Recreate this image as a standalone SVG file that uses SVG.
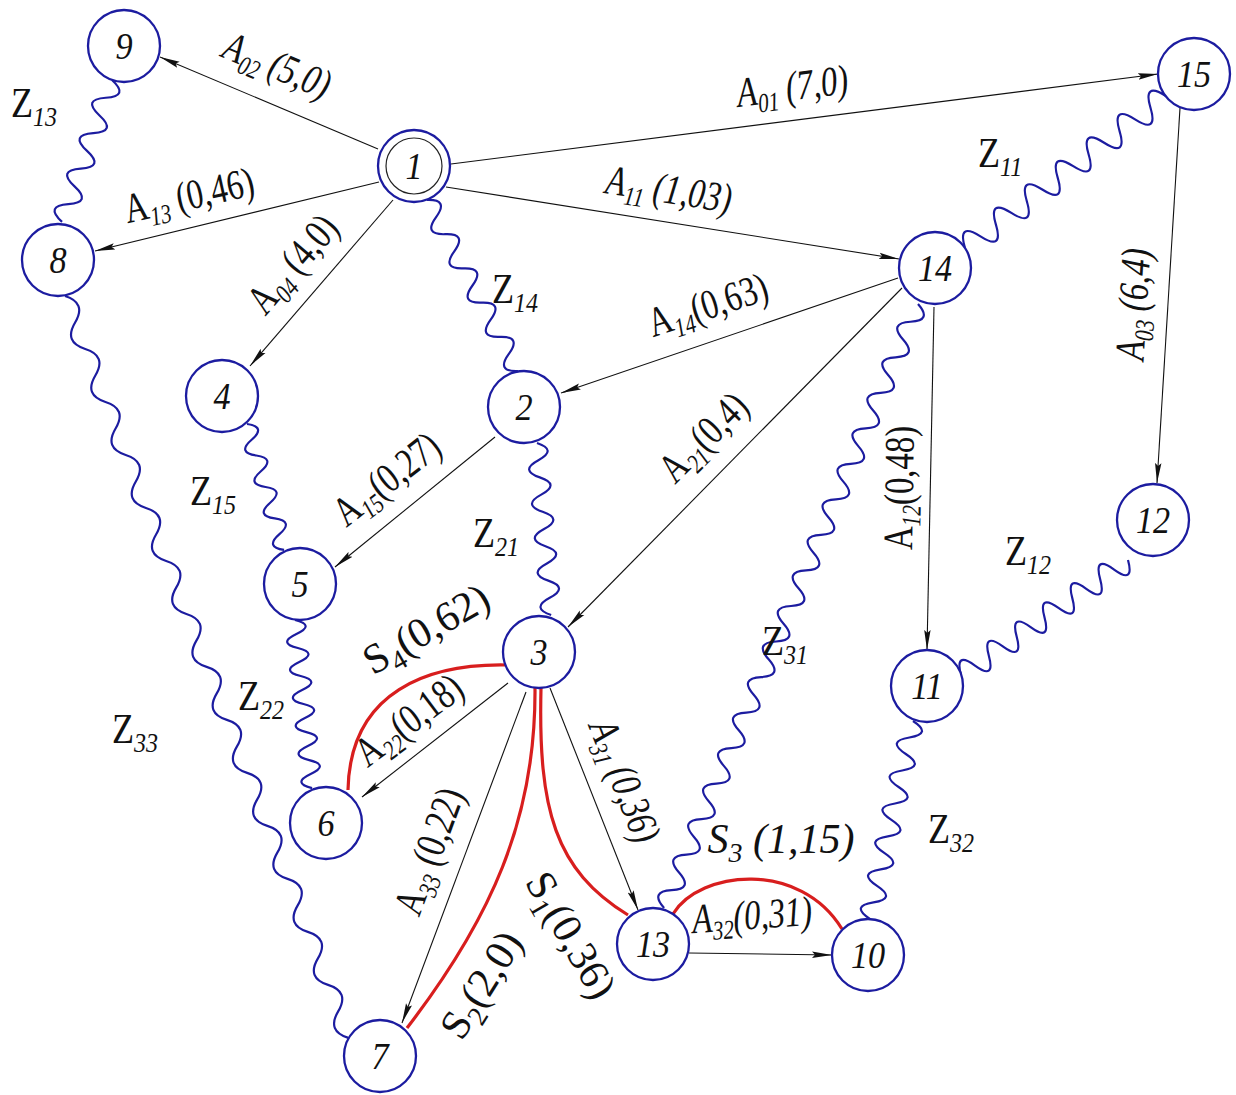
<svg xmlns="http://www.w3.org/2000/svg" width="1236" height="1095" viewBox="0 0 1236 1095">
<style>
.n{fill:#fff;stroke:#1c1ca0;stroke-width:2.3}
.in{fill:none;stroke:#222;stroke-width:1.2}
.nt{font-family:"Liberation Serif",serif;font-style:italic;font-size:38px;fill:#111;text-anchor:middle}
.a{stroke:#111;stroke-width:1.1;fill:none}
.w{stroke:#1c1ca0;stroke-width:2.2;fill:none}
.s{stroke:#d81e1e;stroke-width:3.2;fill:none}
.l{font-family:"Liberation Serif",serif;font-size:42px;fill:#111;text-anchor:middle}
.it{font-style:italic}
.sub{font-size:27px}
.z{font-family:"Liberation Serif",serif;font-size:42px;fill:#111}
.zs{font-size:28px;font-style:italic}
.sl{font-family:"Liberation Serif",serif;font-size:42px;fill:#111;text-anchor:middle}
.ss{font-size:28px}
</style>
<defs>
<marker id="arr" markerUnits="userSpaceOnUse" markerWidth="20" markerHeight="8" viewBox="0 0 20 8" refX="20" refY="4" orient="auto">
<path d="M0,0.8L20,4L0,7.2L3,4z" fill="#111"/>
</marker>
</defs>
<rect width="1236" height="1095" fill="#fff"/>
<g id="connectors">
<g id="arcs">
<line class="a" x1="451" y1="164" x2="1158" y2="74" marker-end="url(#arr)"/>
<line class="a" x1="378" y1="149" x2="160" y2="57" marker-end="url(#arr)"/>
<line class="a" x1="379" y1="182" x2="95" y2="251" marker-end="url(#arr)"/>
<line class="a" x1="446" y1="187" x2="899" y2="259" marker-end="url(#arr)"/>
<line class="a" x1="393" y1="200" x2="250" y2="366" marker-end="url(#arr)"/>
<line class="a" x1="898" y1="278" x2="561" y2="393" marker-end="url(#arr)"/>
<line class="a" x1="495" y1="437" x2="335" y2="567" marker-end="url(#arr)"/>
<line class="a" x1="902" y1="288" x2="568" y2="627" marker-end="url(#arr)"/>
<line class="a" x1="934" y1="307" x2="927" y2="650" marker-end="url(#arr)"/>
<line class="a" x1="1180" y1="108" x2="1157" y2="483" marker-end="url(#arr)"/>
<line class="a" x1="508" y1="683" x2="362" y2="797" marker-end="url(#arr)"/>
<line class="a" x1="526" y1="692" x2="402" y2="1023" marker-end="url(#arr)"/>
<line class="a" x1="550" y1="688" x2="638" y2="910" marker-end="url(#arr)"/>
<line class="a" x1="689" y1="953" x2="832" y2="955" marker-end="url(#arr)"/>
</g>
<g id="waves">
<path class="w" transform="translate(112,80) rotate(109.4)" d="M0,0q9.4,-22 18.8,0t18.8,0 18.8,0 18.8,0 18.8,0 18.8,0 18.8,0 18.8,0"/>
<path class="w" transform="translate(427,200) rotate(62)" d="M0,0q9.69,-20 19.37,0t19.37,0 19.37,0 19.37,0 19.37,0 19.37,0 19.37,0 19.37,0 19.37,0 19.37,0"/>
<path class="w" transform="translate(965,248) rotate(-37.1)" d="M0,0q9.69,-26 19.38,0t19.38,0 19.38,0 19.38,0 19.38,0 19.38,0 19.38,0 19.38,0 19.38,0 19.38,0 19.38,0 19.38,0 19.38,0"/>
<path class="w" transform="translate(247,424) rotate(73.6)" d="M0,0q8.2,-18 16.41,0t16.41,0 16.41,0 16.41,0 16.41,0 16.41,0 16.41,0 16.41,0"/>
<path class="w" transform="translate(537,443) rotate(85.3)" d="M0,0q8.63,-20 17.26,0t17.26,0 17.26,0 17.26,0 17.26,0 17.26,0 17.26,0 17.26,0 17.26,0 17.26,0"/>
<path class="w" transform="translate(295,620) rotate(84.2)" d="M0,0q7.04,-20 14.08,0t14.08,0 14.08,0 14.08,0 14.08,0 14.08,0 14.08,0 14.08,0 14.08,0 14.08,0 14.08,0 14.08,0"/>
<path class="w" transform="translate(65,296) rotate(69.1)" d="M0,0q14.18,-18 28.36,0t28.36,0 28.36,0 28.36,0 28.36,0 28.36,0 28.36,0 28.36,0 28.36,0 28.36,0 28.36,0 28.36,0 28.36,0 28.36,0 28.36,0 28.36,0 28.36,0 28.36,0 28.36,0 28.36,0 28.36,0 28.36,0 28.36,0 28.36,0 28.36,0 28.36,0 28.36,0 28.36,0"/>
<path class="w" transform="translate(918,304) rotate(112.8)" d="M0,0q9.64,-20 19.27,0t19.27,0 19.27,0 19.27,0 19.27,0 19.27,0 19.27,0 19.27,0 19.27,0 19.27,0 19.27,0 19.27,0 19.27,0 19.27,0 19.27,0 19.27,0 19.27,0 19.27,0 19.27,0 19.27,0 19.27,0 19.27,0 19.27,0 19.27,0 19.27,0 19.27,0 19.27,0 19.27,0 19.27,0 19.27,0 19.27,0 19.27,0 19.27,0 19.27,0"/>
<path class="w" transform="translate(1128,560) rotate(145.4)" d="M0,0q8.45,-24 16.9,0t16.9,0 16.9,0 16.9,0 16.9,0 16.9,0 16.9,0 16.9,0 16.9,0 16.9,0 16.9,0 16.9,0"/>
<path class="w" transform="translate(913,721) rotate(102.3)" d="M0,0q8.44,-22 16.88,0t16.88,0 16.88,0 16.88,0 16.88,0 16.88,0 16.88,0 16.88,0 16.88,0 16.88,0 16.88,0 16.88,0"/>
</g>
<g id="paths">
<path class="s" d="M505,665C430,664 350,690 348,790"/>
<path class="s" d="M541,688C538,810 555,870 628,915"/>
<path class="s" d="M535,688C536,820 490,920 407,1028"/>
<path class="s" d="M673,914C700,870 800,860 842,929"/>
</g>
</g>
<g id="labels">
<text class="l it" transform="translate(272,78) rotate(22.5) scale(0.78,1)">A<tspan class="sub" dy="8">02</tspan><tspan dy="-8"> (5,0)</tspan></text>
<text class="l it" transform="translate(794,100) rotate(-7.2) scale(0.78,1)">A<tspan class="sub" dy="8">01</tspan><tspan dy="-8"> (7,0)</tspan></text>
<text class="l it" transform="translate(667,203) rotate(9) scale(0.78,1)">A<tspan class="sub" dy="8">11</tspan><tspan dy="-8"> (1,03)</tspan></text>
<text class="l" transform="translate(192,209) rotate(-12.5) scale(0.78,1)">A<tspan class="sub it" dy="8">13</tspan><tspan dy="-8"> (0,46)</tspan></text>
<text class="l" transform="translate(303,273) rotate(-49.3) scale(0.78,1)">A<tspan class="sub it" dy="8">04</tspan><tspan dy="-8"> (4,0)</tspan></text>
<text class="l" transform="translate(712,318) rotate(-18) scale(0.78,1)">A<tspan class="sub it" dy="8">14</tspan><tspan dy="-8">(0,63)</tspan></text>
<text class="l" transform="translate(395,490) rotate(-38) scale(0.78,1)">A<tspan class="sub it" dy="8">15</tspan><tspan dy="-8">(0,27)</tspan></text>
<text class="l" transform="translate(713,447) rotate(-45) scale(0.78,1)">A<tspan class="sub it" dy="8">21</tspan><tspan dy="-8">(0,4)</tspan></text>
<text class="l" transform="translate(913,488) rotate(-89) scale(0.78,1)">A<tspan class="sub it" dy="8">12</tspan><tspan dy="-8">(0,48)</tspan></text>
<text class="l it" transform="translate(1147,305) rotate(-86.5) scale(0.78,1)">A<tspan class="sub" dy="8">03</tspan><tspan dy="-8"> (6,4)</tspan></text>
<text class="l" transform="translate(417,731) rotate(-37) scale(0.78,1)">A<tspan class="sub it" dy="8">22</tspan><tspan dy="-8">(0,18)</tspan></text>
<text class="l" transform="translate(442,856) rotate(-69.5) scale(0.78,1)">A<tspan class="sub it" dy="8">33</tspan><tspan dy="-8"> (0,22)</tspan></text>
<text class="l it" transform="translate(612,786) rotate(68.4) scale(0.78,1)">A<tspan class="sub" dy="8">31</tspan><tspan dy="-8"> (0,36)</tspan></text>
<text class="l it" transform="translate(753,929) rotate(-4) scale(0.78,1)">A<tspan class="sub" dy="8">32</tspan><tspan dy="-8">(0,31)</tspan></text>
<text class="sl" transform="translate(433,641) rotate(-30)">S<tspan class="ss" dy="9">4</tspan><tspan dy="-9">(0,62)</tspan></text>
<text class="sl" transform="translate(559,942) rotate(60)">S<tspan class="ss" dy="9">1</tspan><tspan dy="-9">(0,36)</tspan></text>
<text class="sl" transform="translate(493,992) rotate(-58)">S<tspan class="ss" dy="9">2</tspan><tspan dy="-9">(2,0)</tspan></text>
<text class="sl it" x="781" y="853">S<tspan class="ss" dy="9">3</tspan><tspan dy="-9"> (1,15)</tspan></text>
<text class="z" transform="translate(11,117) scale(0.86,1)">Z<tspan class="zs" dy="9">13</tspan></text>
<text class="z" transform="translate(978,167) scale(0.86,1)">Z<tspan class="zs" dy="9">11</tspan></text>
<text class="z" transform="translate(492,303) scale(0.86,1)">Z<tspan class="zs" dy="9">14</tspan></text>
<text class="z" transform="translate(190,505) scale(0.86,1)">Z<tspan class="zs" dy="9">15</tspan></text>
<text class="z" transform="translate(473,547) scale(0.86,1)">Z<tspan class="zs" dy="9">21</tspan></text>
<text class="z" transform="translate(238,710) scale(0.86,1)">Z<tspan class="zs" dy="9">22</tspan></text>
<text class="z" transform="translate(112,743) scale(0.86,1)">Z<tspan class="zs" dy="9">33</tspan></text>
<text class="z" transform="translate(762,655) scale(0.86,1)">Z<tspan class="zs" dy="9">31</tspan></text>
<text class="z" transform="translate(1005,565) scale(0.86,1)">Z<tspan class="zs" dy="9">12</tspan></text>
<text class="z" transform="translate(928,843) scale(0.86,1)">Z<tspan class="zs" dy="9">32</tspan></text>
</g>
<g id="node1"><circle class="n" cx="414" cy="166" r="36"/><circle class="in" cx="414" cy="166" r="28"/><text class="nt" transform="translate(414,179) scale(0.9,1)">1</text></g>
<g id="node9"><circle class="n" cx="124" cy="46" r="36"/><text class="nt" transform="translate(124,59) scale(0.9,1)">9</text></g>
<g id="node15"><circle class="n" cx="1194" cy="74" r="36"/><text class="nt" transform="translate(1194,87) scale(0.9,1)">15</text></g>
<g id="node8"><circle class="n" cx="58" cy="260" r="36"/><text class="nt" transform="translate(58,273) scale(0.9,1)">8</text></g>
<g id="node14"><circle class="n" cx="935" cy="268" r="36"/><text class="nt" transform="translate(935,281) scale(0.9,1)">14</text></g>
<g id="node4"><circle class="n" cx="222" cy="396" r="36"/><text class="nt" transform="translate(222,409) scale(0.9,1)">4</text></g>
<g id="node2"><circle class="n" cx="524" cy="407" r="36"/><text class="nt" transform="translate(524,420) scale(0.9,1)">2</text></g>
<g id="node12"><circle class="n" cx="1153" cy="520" r="36"/><text class="nt" transform="translate(1153,533) scale(0.9,1)">12</text></g>
<g id="node5"><circle class="n" cx="300" cy="584" r="36"/><text class="nt" transform="translate(300,597) scale(0.9,1)">5</text></g>
<g id="node3"><circle class="n" cx="539" cy="652" r="36"/><text class="nt" transform="translate(539,665) scale(0.9,1)">3</text></g>
<g id="node11"><circle class="n" cx="927" cy="686" r="36"/><text class="nt" transform="translate(927,699) scale(0.9,1)">11</text></g>
<g id="node6"><circle class="n" cx="326" cy="823" r="36"/><text class="nt" transform="translate(326,836) scale(0.9,1)">6</text></g>
<g id="node13"><circle class="n" cx="653" cy="944" r="36"/><text class="nt" transform="translate(653,957) scale(0.9,1)">13</text></g>
<g id="node10"><circle class="n" cx="868" cy="955" r="36"/><text class="nt" transform="translate(868,968) scale(0.9,1)">10</text></g>
<g id="node7"><circle class="n" cx="380" cy="1056" r="36"/><text class="nt" transform="translate(380,1069) scale(0.9,1)">7</text></g>
</svg>
